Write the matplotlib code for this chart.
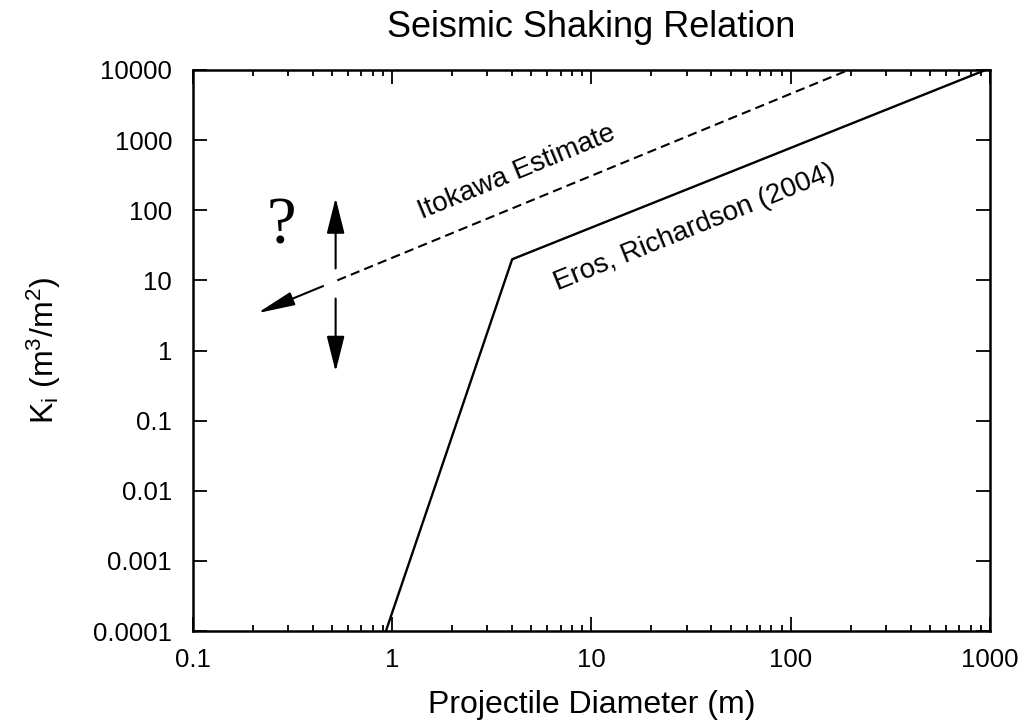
import matplotlib
matplotlib.use('Agg')
import matplotlib.pyplot as plt
from matplotlib.ticker import FuncFormatter, LogLocator, NullLocator

plt.rcParams['font.family'] = ['Liberation Sans', 'DejaVu Sans']
plt.rcParams['mathtext.default'] = 'regular'

# Eros, Richardson (2004) relation
eros_d = [0.93, 4.0, 950.0]
eros_k = [1e-4, 20.0, 1e4]

# Itokawa estimate (dashed), arrow part and dashed part
itokawa_d = [0.53, 195.0]
itokawa_k = [10.0, 1e4]
arrow_start = (0.45, 8.3)
arrow_tip = (0.21, 3.4)

# vertical uncertainty arrows
unc_d = 0.52
unc_up = (14.8, 150.0)
unc_down = (5.5, 0.5)

fig = plt.figure(figsize=(10.28, 7.23), dpi=100)
ax = fig.add_axes([0.1877, 0.1272, 0.7753, 0.776])

ax.plot(eros_d, eros_k, color='black', lw=1.7)
ax.plot(itokawa_d, itokawa_k, color='black', lw=1.5, dashes=(4.5, 2.5))

ax.annotate('', xy=arrow_tip, xytext=arrow_start,
            arrowprops=dict(arrowstyle='-|>,head_length=2.3,head_width=0.42',
                            color='black', lw=1.5, shrinkA=0, shrinkB=0))
ax.annotate('', xy=(unc_d, unc_up[1]), xytext=(unc_d, unc_up[0]),
            arrowprops=dict(arrowstyle='-|>,head_length=2.2,head_width=0.55',
                            color='black', lw=1.5, shrinkA=0, shrinkB=0))
ax.annotate('', xy=(unc_d, unc_down[1]), xytext=(unc_d, unc_down[0]),
            arrowprops=dict(arrowstyle='-|>,head_length=2.2,head_width=0.55',
                            color='black', lw=1.5, shrinkA=0, shrinkB=0))

ax.text(0.277, 57, '?', family='Liberation Serif', fontsize=48,
        ha='center', va='center')
ax.text(4.23, 351, 'Itokawa Estimate', fontsize=20, rotation=22.4,
        ha='center', va='center')
ax.text(33, 56, 'Eros, Richardson (2004)', fontsize=20, rotation=22,
        ha='center', va='center')

ax.set_xscale('log')
ax.set_yscale('log')
ax.set_xlim(0.1, 1000)
ax.set_ylim(1e-4, 1e4)

ax.xaxis.set_major_locator(LogLocator(base=10, numticks=10))
ax.xaxis.set_minor_locator(LogLocator(base=10, subs=range(2, 10), numticks=20))
ax.yaxis.set_major_locator(LogLocator(base=10, numticks=20))
ax.yaxis.set_minor_locator(NullLocator())
fmt = FuncFormatter(lambda v, p: '%g' % v)
ax.xaxis.set_major_formatter(fmt)
ax.yaxis.set_major_formatter(fmt)

ax.tick_params(which='both', direction='in', top=True, right=True,
               labelsize=18.5, width=1.3)
ax.tick_params(which='major', length=10)
ax.tick_params(which='minor', length=4.5)
ax.tick_params(axis='x', which='major', pad=12)
ax.tick_params(axis='y', which='major', pad=15)
for s in ax.spines.values():
    s.set_linewidth(1.8)

ax.set_xlabel('Projectile Diameter (m)', fontsize=23, labelpad=13)
ax.set_ylabel('K$_i$ (m$^3$/m$^2$)', fontsize=23, labelpad=22)
ax.set_title('Seismic Shaking Relation', fontsize=26, pad=24)

fig.savefig('out.png', dpi=100)
